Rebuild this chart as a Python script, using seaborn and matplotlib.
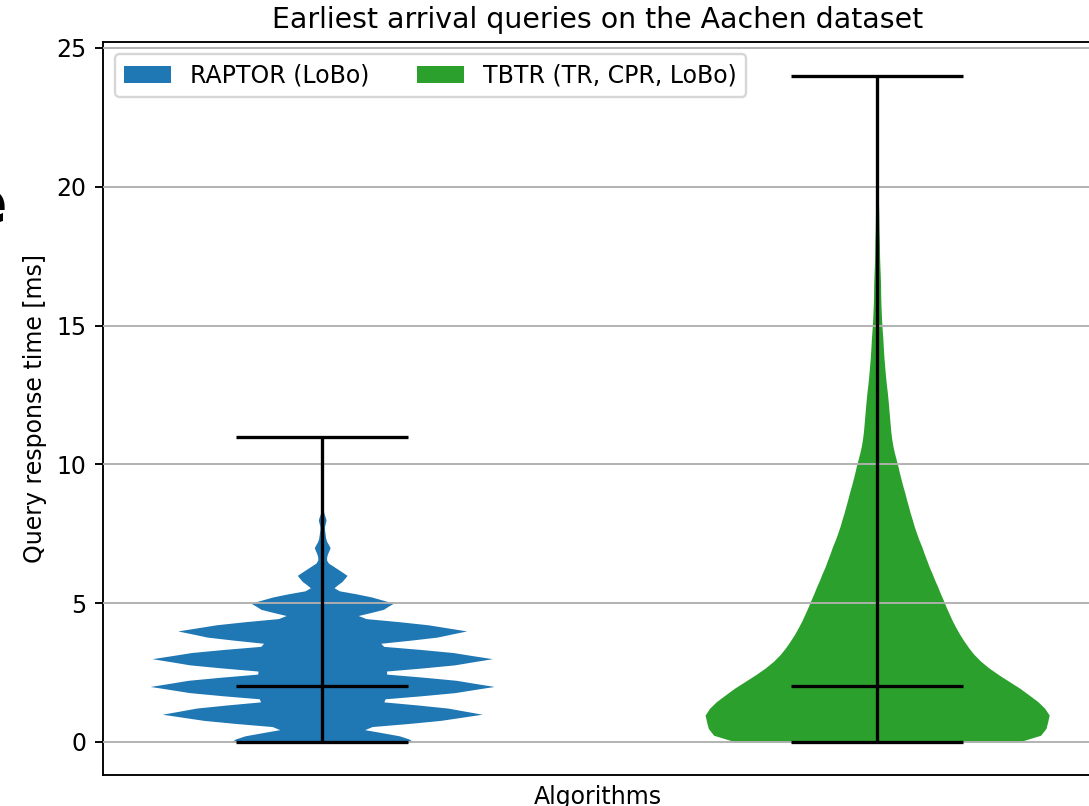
import numpy as np
import pandas as pd
import matplotlib
matplotlib.use('Agg')
import matplotlib.pyplot as plt
import seaborn as sns
from matplotlib.patches import Patch

algorithms = ['RAPTOR (LoBo)', 'TBTR (TR, CPR, LoBo)']
colors = ['#1f77b4', '#2ca02c']

# query response times [ms] (binned) and number of queries in each bin
raptor_times = [0, 0.25, 0.5, 0.75, 1, 1.25, 1.5, 1.75, 2, 2.25, 2.5, 2.75,
                3, 3.25, 3.5, 3.75, 4, 4.25, 4.5, 4.75, 5, 5.25, 5.5, 5.75,
                6, 6.25, 6.5, 6.75, 7, 7.25, 7.5, 7.75, 8, 8.25, 8.5, 11]
raptor_counts = [213, 157, 62, 239, 349, 256, 85, 270, 374, 273, 88, 270,
                 370, 266, 83, 235, 315, 213, 54, 127, 155, 99, 17, 40,
                 55, 30, 8, 10, 18, 8, 6, 4, 9, 3, 1, 1]

tbtr_times = [0, 0.5, 1, 1.5, 2, 2.5, 3, 3.5, 4, 4.5, 5, 5.5, 6, 6.5, 7, 7.5,
              8, 8.5, 9, 9.5, 10, 10.5, 11, 11.5, 12, 12.5, 13, 13.5, 14, 14.5,
              15, 15.5, 16, 16.5, 17, 17.5, 18, 18.5, 19, 19.5, 20, 20.5, 21, 24]
tbtr_counts = [291, 285, 300, 272, 240, 200, 170, 152, 137, 125, 115, 105, 95, 85, 77, 67,
               60, 53, 47, 40, 35, 28, 24, 22, 20, 18, 15, 13, 11, 10,
               8, 7, 6, 6, 5, 4, 4, 3, 3, 2, 2, 1, 1, 1]

# extrema and medians shown as bars
t_min = [0, 0]
t_median = [2, 2]
t_max = [11, 24]

kde_sigma = [0.12, 0.3]   # kernel width in ms
violin_width = 0.62

df = pd.DataFrame({
    'algorithm': np.repeat(algorithms, [sum(raptor_counts), sum(tbtr_counts)]),
    'time': np.concatenate([np.repeat(raptor_times, raptor_counts),
                            np.repeat(tbtr_times, tbtr_counts)]),
})

DPI = 170
fig = plt.figure(figsize=(1089 / DPI, 806 / DPI), dpi=DPI)
ax = fig.add_axes([103 / 1089, 0.0381, 990 / 1089, 0.9093])

for i, name in enumerate(algorithms):
    sub = df[df['algorithm'] == name]
    sns.violinplot(data=sub, x='algorithm', y='time', order=algorithms,
                   hue='algorithm', hue_order=algorithms, palette=colors,
                   legend=False, inner=None, cut=0, density_norm='width',
                   width=violin_width, linewidth=0, saturation=1,
                   bw_method=kde_sigma[i] / sub['time'].std(), ax=ax)
    bar = violin_width / 4
    ax.vlines(i, t_min[i], t_max[i], color='black', lw=1.4, zorder=3)
    ax.hlines([t_min[i], t_median[i], t_max[i]], i - bar, i + bar,
              color='black', lw=1.4, zorder=3)

ax.set_xlim(-0.395, 1.389)
ax.set_ylim(-1.2, 25.2)
ax.set_xticks([])
ax.set_yticks([0, 5, 10, 15, 20, 25])
ax.yaxis.grid(True, color='#b0b0b0', lw=0.8)
ax.set_axisbelow(False)
ax.set_xlabel('Algorithms')
ax.set_ylabel('Query response time [ms]')
ax.set_title('Earliest arrival queries on the Aachen dataset')

handles = [Patch(facecolor=c, label=l) for c, l in zip(colors, algorithms)]
ax.legend(handles=handles, loc='upper left', ncol=2)

# piece of a larger letter cut by the left edge
fig.text(7 / 1089, (806 - 223) / 806, 'e', fontsize=26, fontweight='bold',
         ha='right', va='baseline')

fig.savefig('out.png', dpi=DPI)
